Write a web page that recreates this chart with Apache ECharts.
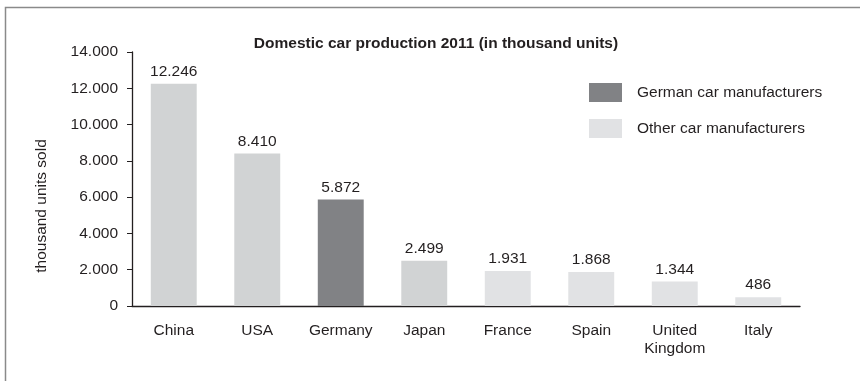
<!DOCTYPE html>
<html>
<head>
<meta charset="utf-8">
<style>
  html, body { margin: 0; padding: 0; background: #ffffff; }
  #chart { width: 860px; height: 381px; }
</style>
<script src="https://cdn.jsdelivr.net/npm/echarts@6/dist/echarts.min.js"></script>
</head>
<body>
<div id="chart"></div>
<script>
// Domestic car production 2011, thousand units
const countries = ['China', 'USA', 'Germany', 'Japan', 'France', 'Spain', 'United\nKingdom', 'Italy'];
const germanMakers = [null, null, 5872, null, null, null, null, null];
const otherMakers = [12246, 8410, null, 2499, 1931, 1868, 1344, 486];
const yTicks = [0, 2000, 4000, 6000, 8000, 10000, 12000, 14000];

const FONT = 'Liberation Sans, Arial, sans-serif';
const FS = 15.5;
const TEXT = '#231f20';
const GERMAN_COLOR = '#818285';
const OTHER_COLOR = '#e1e2e4';
const OTHER_DARK = '#d1d3d4';
const darkerBars = ['China', 'USA', 'Japan'];

// German-style thousands separator: 12246 -> "12.246"
function dotThousands(v) {
  const s = String(Math.round(v));
  return s.replace(/\B(?=(\d{3})+(?!\d))/g, '.');
}

const chart = echarts.init(document.getElementById('chart'), null, { renderer: 'canvas' });

const valueLabel = {
  show: true,
  position: 'top',
  distance: 4,
  color: TEXT,
  fontFamily: FONT,
  fontSize: FS,
  formatter: p => dotThousands(p.value)
};

chart.setOption({
  backgroundColor: '#ffffff',
  animation: false,
  title: {
    text: 'Domestic car production 2011 (in thousand units)',
    left: 431,
    top: 31,
    textAlign: 'center',
    textStyle: { fontFamily: FONT, fontSize: FS, fontWeight: 'bold', color: TEXT }
  },
  legend: {
    orient: 'vertical',
    left: 584,
    top: 78,
    itemWidth: 33,
    itemHeight: 19,
    itemGap: 17,
    icon: 'rect',
    textStyle: { fontFamily: FONT, fontSize: FS, color: TEXT, padding: [0, 0, 0, 10] },
    data: ['German car manufacturers', 'Other car manufacturers']
  },
  grid: { left: 132, right: 60, top: 52, bottom: 75 },
  xAxis: {
    type: 'category',
    data: countries,
    axisLine: { lineStyle: { color: TEXT, width: 1.3 } },
    axisTick: { show: false },
    axisLabel: {
      color: TEXT, fontFamily: FONT, fontSize: FS, lineHeight: 18, margin: 16,
      interval: 0
    }
  },
  yAxis: {
    type: 'value',
    min: yTicks[0],
    max: yTicks[yTicks.length - 1],
    interval: yTicks[1] - yTicks[0],
    name: 'thousand units sold',
    nameLocation: 'middle',
    nameGap: 82,
    nameRotate: 90,
    nameTextStyle: { fontFamily: FONT, fontSize: FS, color: TEXT, padding: [0, 54, 0, 0] },
    axisLine: { show: true, lineStyle: { color: TEXT, width: 1.3 } },
    axisTick: { show: true, length: 5, inside: false, lineStyle: { color: TEXT } },
    splitLine: { show: false },
    axisLabel: {
      color: TEXT, fontFamily: FONT, fontSize: FS, margin: 14,
      formatter: v => dotThousands(v)
    }
  },
  series: [
    {
      name: 'German car manufacturers',
      type: 'bar',
      data: germanMakers,
      barWidth: '55%',
      barGap: '-100%',
      itemStyle: { color: GERMAN_COLOR },
      label: valueLabel
    },
    {
      name: 'Other car manufacturers',
      type: 'bar',
      data: otherMakers.map((v, i) => ({
        value: v,
        itemStyle: { color: darkerBars.includes(countries[i]) ? OTHER_DARK : OTHER_COLOR }
      })),
      barWidth: '55%',
      itemStyle: { color: OTHER_COLOR },
      label: valueLabel
    }
  ],
  graphic: [
    {
      type: 'polyline',
      shape: { points: [[5.5, 381], [5.5, 7.5], [860, 7.5]] },
      style: { stroke: '#8a8a8a', lineWidth: 1.5, fill: null },
      silent: true
    }
  ]
});
</script>
</body>
</html>
